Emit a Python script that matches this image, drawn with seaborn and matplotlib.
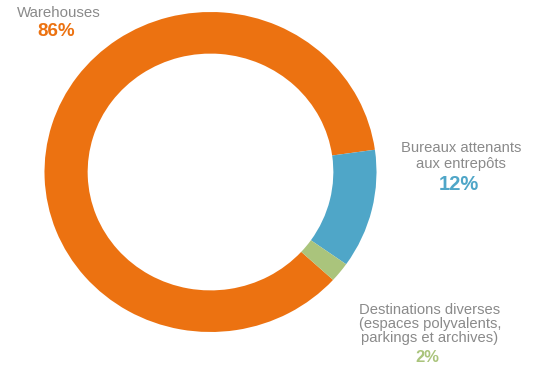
import matplotlib
matplotlib.use("Agg")
import matplotlib.pyplot as plt
import seaborn as sns

categories = ["Warehouses", "Bureaux attenants\naux entrepôts",
              "Destinations diverses\n(espaces polyvalents,\nparkings et archives)"]
shares = [86, 12, 2]
pct_labels = ["86%", "12%", "2%"]
colors = ["#EC7211", "#4FA6C8", "#AAC47C"]

sns.set_theme(style="white")
plt.rcParams['font.family'] = ['Liberation Sans', 'DejaVu Sans']

W, H = 539, 372
fig = plt.figure(figsize=(W / 100, H / 100), dpi=100)
ax = fig.add_axes([0, 0, 1, 1])

# donut: unit radius, axis scaled to pixel geometry
cxp, cyp = 210.5, 172.0   # centre in pixels (from top)
sx, sy = 166.0, 160.0     # pixels per unit horizontally / vertically
ax.pie(shares, colors=colors, startangle=-42.4, counterclock=False,
       center=(0, 0), radius=1.0,
       wedgeprops=dict(width=0.26, linewidth=0))
ax.set_aspect("auto")
ax.set_xlim(-cxp / sx, (W - cxp) / sx)
ax.set_ylim(-(H - cyp) / sy, cyp / sy)
ax.axis("off")


def px(x, y):
    return (x - cxp) / sx, (cyp - y) / sy


gray = "#8A8A8A"
# Warehouses
ax.text(*px(59, 13), categories[0], ha="center", va="center", fontsize=10.8, color=gray)
ax.text(*px(56, 32), pct_labels[0], ha="center", va="center", fontsize=13.5,
        fontweight="bold", color=colors[0])
# Bureaux
ax.text(*px(461, 156), categories[1], ha="center", va="center", fontsize=10.6,
        color=gray, linespacing=1.15)
ax.text(*px(459, 184), pct_labels[1], ha="center", va="center", fontsize=14.5,
        fontweight="bold", color=colors[1])
# Destinations
ax.text(*px(430, 324), categories[2], ha="center", va="center", fontsize=10.6,
        color=gray, linespacing=1.02)
ax.text(*px(427, 357), pct_labels[2], ha="center", va="center", fontsize=12,
        fontweight="bold", color=colors[2])

fig.savefig("out.png", dpi=100)
